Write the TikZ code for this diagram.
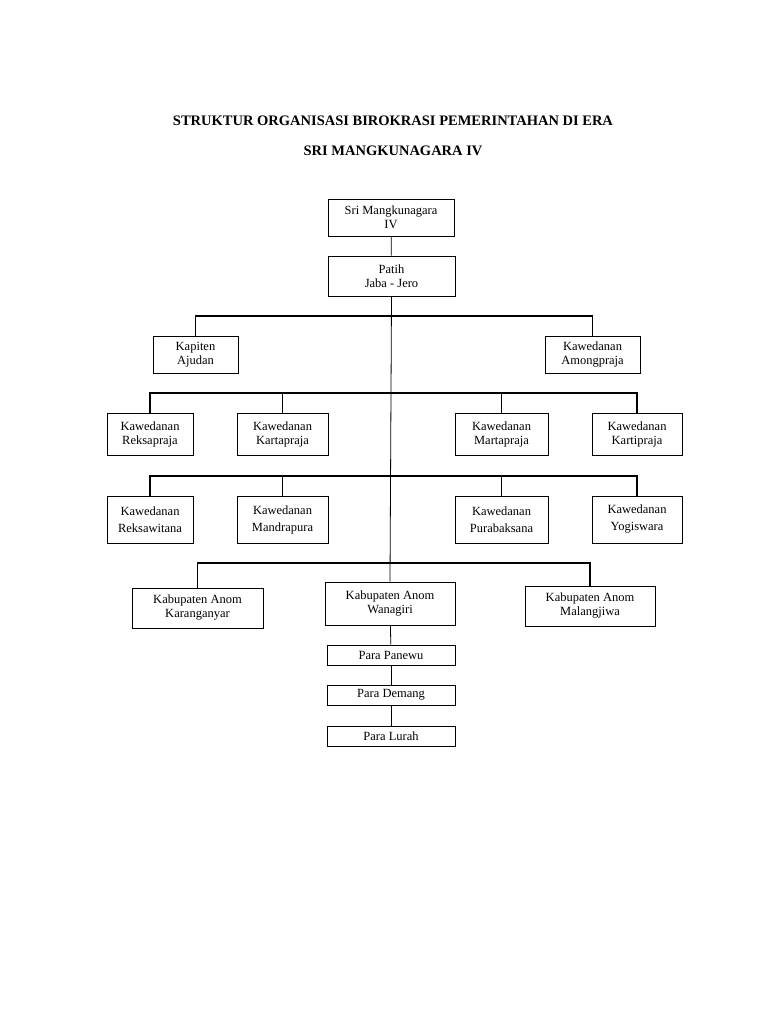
\documentclass[tikz,border=0pt]{standalone}
\usepackage{fontspec}
\setmainfont{Liberation Serif}
\usetikzlibrary{positioning}

\begin{document}
\begin{tikzpicture}[x=1pt,y=-1pt,
    box/.style={draw,line width=0.8pt,align=center,font=\fontsize{12.5}{14}\selectfont,inner sep=1pt},
    bar/.style={line width=1.4pt}]
    \useasboundingbox (0,0) rectangle (768,1024);
    % Title
    \node[font=\bfseries\fontsize{14.5}{16}\selectfont] (title1) at (393,121) {STRUKTUR ORGANISASI BIROKRASI PEMERINTAHAN DI ERA};
    \node[font=\bfseries\fontsize{14.5}{16}\selectfont] (title2) at (393,151) {SRI MANGKUNAGARA IV};
    % Top
    \node[box,minimum width=126,minimum height=37] (raja) at (391,217.5) {Sri Mangkunagara\\IV};
    \node[box,minimum width=127,minimum height=40] (patih) at (391.5,276) {Patih\\Jaba - Jero};
    % Second level
    \node[box,minimum width=85,minimum height=37] (kapiten) at (195.5,354.5) {Kapiten\\Ajudan};
    \node[box,minimum width=95,minimum height=37] (among) at (592.5,354.5) {Kawedanan\\Amongpraja};
    % Kawedanan rows
    \node[box,minimum width=86,minimum height=42] (reksapraja) at (150,434) {Kawedanan\\Reksapraja};
    \node[box,minimum width=91,minimum height=42] (kartapraja) at (282.5,434) {Kawedanan\\Kartapraja};
    \node[box,minimum width=93,minimum height=42] (martapraja) at (501.5,434) {Kawedanan\\Martapraja};
    \node[box,minimum width=90,minimum height=42] (kartipraja) at (637,434) {Kawedanan\\Kartipraja};
    \node[box,minimum width=86,minimum height=47] (reksawitana) at (150,519.5) {Kawedanan\\[3pt]Reksawitana};
    \node[box,minimum width=91,minimum height=47] (mandrapura) at (282.5,519.5) {Kawedanan\\[3pt]Mandrapura};
    \node[box,minimum width=93,minimum height=47] (purabaksana) at (501.5,519.5) {Kawedanan\\[3pt]Purabaksana};
    \node[box,minimum width=90,minimum height=47] (yogiswara) at (637,519.5) {Kawedanan\\[3pt]Yogiswara};
    % Kabupaten
    \node[box,minimum width=131,minimum height=40] (karang) at (197.5,608) {Kabupaten Anom\\Karanganyar};
    \node[box,minimum width=130,minimum height=43] (wanagiri) at (390,603.5) {Kabupaten Anom\\Wanagiri};
    \node[box,minimum width=130,minimum height=40] (malang) at (590,606) {Kabupaten Anom\\Malangjiwa};
    \node[box,minimum width=128,minimum height=20] (panewu) at (391,655) {Para Panewu};
    \node[box,minimum width=128,minimum height=20] (demang) at (391,695) {Para Demang};
    \node[box,minimum width=128,minimum height=20] (lurah) at (391,736) {Para Lurah};
    % Connectors
    \coordinate (bar1) at (390,316);
    \coordinate (bar2) at (390,393);
    \coordinate (bar3) at (390,476);
    \coordinate (bar4) at (390,563);
    \draw[line width=0.8pt] (raja) -- (patih);
    \draw[line width=0.8pt] (patih.south) -- (wanagiri.north);
    \draw[bar] (kapiten.north) |- (bar1) -| (among.north);
    \draw[bar] (reksapraja.north) |- (bar2) -| (kartipraja.north);
    \draw[bar] (kartapraja.north) -- (kartapraja.north |- bar2);
    \draw[bar] (martapraja.north) -- (martapraja.north |- bar2);
    \draw[bar] (reksawitana.north) |- (bar3) -| (yogiswara.north);
    \draw[bar] (mandrapura.north) -- (mandrapura.north |- bar3);
    \draw[bar] (purabaksana.north) -- (purabaksana.north |- bar3);
    \draw[bar] (karang.north) |- (bar4) -| (malang.north);
    \draw[line width=0.8pt] (wanagiri) -- (panewu);
    \draw[line width=0.8pt] (panewu) -- (demang);
    \draw[line width=0.8pt] (demang) -- (lurah);
\end{tikzpicture}
\end{document}
